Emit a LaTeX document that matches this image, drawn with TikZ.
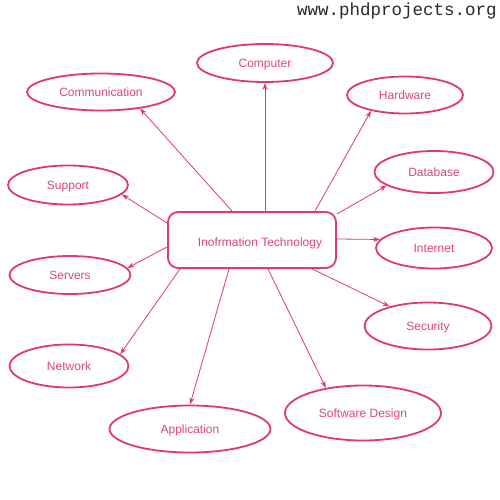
\documentclass[tikz,border=0pt]{standalone}
\usepackage{fontspec}
\setmainfont{Liberation Sans}
\newfontfamily\webfont{Liberation Mono}
\usetikzlibrary{shapes.geometric,arrows.meta}
\definecolor{pk}{RGB}{224,58,104}
\definecolor{pktext}{RGB}{222,70,110}
\definecolor{hdr}{RGB}{40,40,40}
\tikzset{
  bubble/.style={ellipse,draw=pk,line width=1.8pt,inner sep=0pt,text=pktext,font=\fontsize{12}{14}\selectfont,text height=8.6pt,text depth=0pt},
  hub/.style={rectangle,rounded corners=10pt,draw=pk,line width=1.8pt,minimum width=168pt,minimum height=56pt,inner sep=0pt},
  conn/.style={draw=pk,line width=0.8pt,-{Stealth[length=7pt,width=5pt]}}
}
\begin{document}
\begin{tikzpicture}[x=1pt,y=-1pt]
\useasboundingbox (0,0) rectangle (500,500);
\node[font=\webfont\fontsize{17.5}{20}\selectfont,text=hdr,text height=12pt,text depth=0pt] (web) at (397,10) {www.phdprojects.org};
\node[hub] (it) at (252,240) {};
\node[text=pktext,font=\fontsize{12}{14}\selectfont,text height=8.6pt,text depth=0pt] (itt) at (260,242) {Inofrmation Technology};
\node[bubble,minimum width=136pt,minimum height=38pt] (comp) at (265,63) {Computer};
\node[bubble,minimum width=148pt,minimum height=37pt] (comm) at (101,92) {Communication};
\node[bubble,minimum width=116pt,minimum height=37pt] (hard) at (405,95) {Hardware};
\node[bubble,minimum width=119pt,minimum height=42pt] (data) at (434,172) {Database};
\node[bubble,minimum width=120pt,minimum height=39pt] (supp) at (68,185) {Support};
\node[bubble,minimum width=116pt,minimum height=41pt] (inet) at (434,248) {Internet};
\node[bubble,minimum width=121pt,minimum height=38pt] (serv) at (70,275) {Servers};
\node[bubble,minimum width=127pt,minimum height=47pt] (secu) at (428,326) {Security};
\node[bubble,minimum width=119pt,minimum height=43pt] (netw) at (69,366) {Network};
\node[bubble,minimum width=156pt,minimum height=55pt] (soft) at (363,413) {Software Design};
\node[bubble,minimum width=161pt,minimum height=47pt] (appl) at (190,429) {Application};
\draw[conn] ([xshift=13pt]it.north) -- (comp.south);
\draw[conn] ([xshift=-20pt]it.north) -- (comm.337);
\draw[conn] ([xshift=63pt]it.north) -- (hard.205);
\draw[conn] ([yshift=26pt]it.east) -- (data.196);
\draw[conn] ([yshift=1pt]it.east) -- (inet.171);
\draw[conn] ([yshift=17pt]it.west) -- (supp.350);
\draw[conn] ([yshift=-7pt]it.west) -- (serv.7);
\draw[conn] ([xshift=-72pt]it.south) -- (netw.13);
\draw[conn] ([xshift=-23pt]it.south) -- (appl.north);
\draw[conn] ([xshift=16pt]it.south) -- (soft.146);
\draw[conn] ([xshift=60pt]it.south) -- (secu.153);
\end{tikzpicture}
\end{document}
